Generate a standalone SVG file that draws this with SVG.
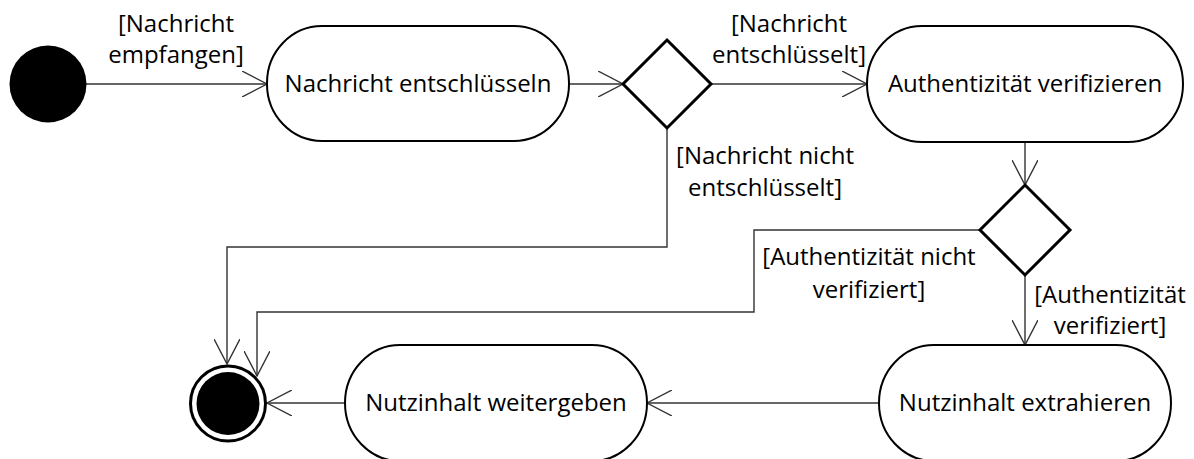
<svg xmlns="http://www.w3.org/2000/svg" width="1194" height="459" viewBox="0 0 1194 459">
  <style>
    .action { fill: #ffffff; stroke: #000000; stroke-width: 2; }
    .decision { fill: #ffffff; stroke: #000000; stroke-width: 3; stroke-linejoin: miter; }
    .flow { fill: none; stroke: #333333; stroke-width: 1.4; }
    .label { font-family: "Open Sans", "Liberation Sans", sans-serif; font-size: 24px; fill: #000000; text-anchor: middle; }
  </style>
  <defs>
    <marker id="open-arrow" viewBox="0 0 26 26" refX="25" refY="13" markerWidth="26" markerHeight="26" markerUnits="userSpaceOnUse" orient="auto">
      <path d="M0,0 L25,13 L0,26" fill="none" stroke="#333333" stroke-width="1.4"/>
    </marker>
  </defs>

  <rect width="1194" height="459" fill="#ffffff"/>

  <!-- control flows -->
  <g id="connectors">
    <path class="flow" d="M86,84 H267" marker-end="url(#open-arrow)"/>
    <text class="label" x="176" y="32">[Nachricht</text>
    <text class="label" x="176" y="63">empfangen]</text>

    <path class="flow" d="M569,84 H623" marker-end="url(#open-arrow)"/>

    <path class="flow" d="M711,84 H867" marker-end="url(#open-arrow)"/>
    <text class="label" x="789" y="32">[Nachricht</text>
    <text class="label" x="789" y="63">entschlüsselt]</text>

    <path class="flow" d="M667,128 V247 H227 V364" marker-end="url(#open-arrow)"/>
    <text class="label" x="765" y="164">[Nachricht nicht</text>
    <text class="label" x="765" y="196">entschlüsselt]</text>

    <path class="flow" d="M980,230 H754 V312 H257 V376" marker-end="url(#open-arrow)"/>
    <text class="label" x="869" y="265">[Authentizität nicht</text>
    <text class="label" x="869" y="298">verifiziert]</text>

    <path class="flow" d="M1025,142 V185" marker-end="url(#open-arrow)"/>

    <path class="flow" d="M1025,275 V345" marker-end="url(#open-arrow)"/>
    <text class="label" x="1110" y="303">[Authentizität</text>
    <text class="label" x="1110" y="334">verifiziert]</text>

    <path class="flow" d="M879,403 H647" marker-end="url(#open-arrow)"/>
    <path class="flow" d="M345,403 H267" marker-end="url(#open-arrow)"/>
  </g>

  <!-- initial node -->
  <g id="start">
    <circle cx="48" cy="84" r="38.5" fill="#000000"/>
  </g>

  <g id="decrypt">
    <rect class="action" x="267" y="26" width="302" height="115" rx="55" ry="57"/>
    <text class="label" x="418" y="92">Nachricht entschlüsseln</text>
  </g>

  <g id="decision-decrypted">
    <polygon class="decision" points="667,40 711,84 667,128 623,84"/>
  </g>

  <g id="verify">
    <rect class="action" x="867" y="26" width="316" height="116" rx="55" ry="58"/>
    <text class="label" x="1025" y="92">Authentizität verifizieren</text>
  </g>

  <g id="decision-verified">
    <polygon class="decision" points="1025,185 1070,230 1025,275 980,230"/>
  </g>

  <g id="extract">
    <rect class="action" x="879" y="345" width="292" height="116" rx="55" ry="58"/>
    <text class="label" x="1025" y="411">Nutzinhalt extrahieren</text>
  </g>

  <g id="forward">
    <rect class="action" x="345" y="345" width="302" height="116" rx="55" ry="58"/>
    <text class="label" x="496" y="411">Nutzinhalt weitergeben</text>
  </g>

  <!-- final node -->
  <g id="end">
    <circle cx="228" cy="403.5" r="37.5" fill="#ffffff" stroke="#000000" stroke-width="3"/>
    <circle cx="228" cy="403.5" r="31.5" fill="#000000"/>
  </g>
</svg>
